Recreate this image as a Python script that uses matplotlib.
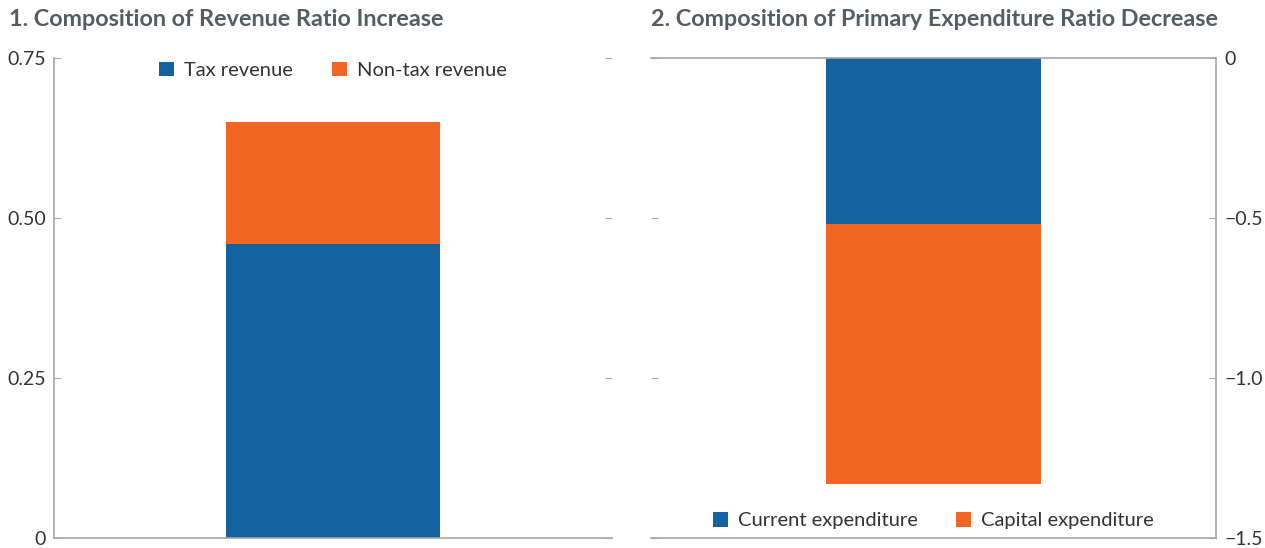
import matplotlib.pyplot as plt
import numpy as np

plt.rcParams['font.family'] = ['Lato', 'DejaVu Sans']

# panel 1: revenue ratio increase
rev_labels = ['Tax revenue', 'Non-tax revenue']
rev_values = [0.46, 0.19]

# panel 2: primary expenditure ratio decrease
exp_labels = ['Current expenditure', 'Capital expenditure']
exp_values = [-0.52, -0.81]

left_ticks = [0, 0.25, 0.5, 0.75]
left_ticklabels = ['0', '0.25', '0.50', '0.75']
right_ticks = [0, -0.5, -1.0, -1.5]
right_ticklabels = ['0', '\u22120.5', '\u22121.0', '\u22121.5']

blue = '#1462a0'
orange = '#f26522'
grey = '#a6a6a6'
txt = '#333333'
title_col = '#575c63'

fig = plt.figure(figsize=(12.65, 5.48), dpi=100)
ax1 = fig.add_axes([54 / 1265, 1 - 538 / 548, 558 / 1265, 480 / 548])
ax2 = fig.add_axes([651 / 1265, 1 - 538 / 548, 565 / 1265, 480 / 548])

# left panel
bottom = 0
for lab, val, col in zip(rev_labels, rev_values, [blue, orange]):
    ax1.bar(0, val, bottom=bottom, width=0.383, color=col, label=lab)
    bottom += val
ax1.set_xlim(-0.5, 0.5)
ax1.set_ylim(0, 0.75)
ax1.set_yticks(left_ticks)
ax1.set_yticklabels(left_ticklabels)
ax1.set_xticks([])
ax1.tick_params(axis='y', direction='in', length=5, color=grey, labelsize=14,
                labelcolor=txt, right=True, pad=6)
for s in ['top', 'right']:
    ax1.spines[s].set_visible(False)
for s in ['left', 'bottom']:
    ax1.spines[s].set_color(grey)
    ax1.spines[s].set_linewidth(1.2)
ax1.legend(loc='upper center', ncol=2, frameon=False, fontsize=14.5,
           handlelength=0.75, handleheight=0.75, columnspacing=1.9,
           handletextpad=0.5, labelcolor=txt, bbox_to_anchor=(0.5, 1.03))
fig.text(9 / 1265, 1 - 20 / 548, '1. Composition of Revenue Ratio Increase',
         fontsize=16.8, fontweight='bold', color=title_col, va='center', ha='left')

# right panel
bottom = 0
for lab, val, col in zip(exp_labels, exp_values, [blue, orange]):
    ax2.bar(0, val, bottom=bottom, width=0.379, color=col, label=lab)
    bottom += val
ax2.set_xlim(-0.5, 0.5)
ax2.set_ylim(-1.5, 0)
ax2.yaxis.tick_right()
ax2.set_yticks(right_ticks)
ax2.set_yticklabels(right_ticklabels)
ax2.set_xticks([])
ax2.tick_params(axis='y', direction='in', length=5, color=grey, labelsize=14,
                labelcolor=txt, left=True, right=True, pad=6)
ax2.spines['left'].set_visible(False)
for s in ['top', 'right', 'bottom']:
    ax2.spines[s].set_color(grey)
    ax2.spines[s].set_linewidth(1.2)
ax2.legend(loc='lower center', ncol=2, frameon=False, fontsize=14.5,
           handlelength=0.75, handleheight=0.75, columnspacing=1.9,
           handletextpad=0.5, labelcolor=txt, bbox_to_anchor=(0.5, -0.02))
fig.text(651 / 1265, 1 - 20 / 548, '2. Composition of Primary Expenditure Ratio Decrease',
         fontsize=16.8, fontweight='bold', color=title_col, va='center', ha='left')

fig.savefig('out.png', dpi=100)
